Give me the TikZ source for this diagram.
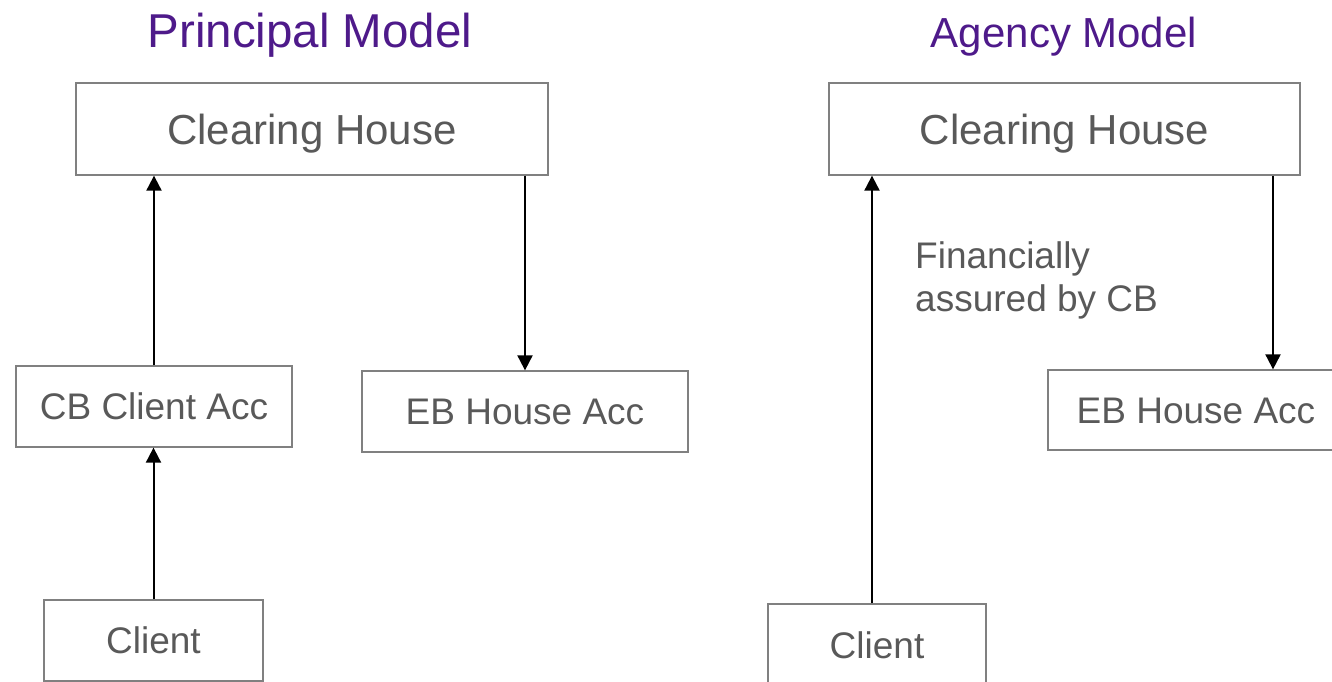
\documentclass[tikz,border=0pt]{standalone}
\usepackage{fontspec}
\setmainfont{Liberation Sans}
\usetikzlibrary{arrows.meta}
\definecolor{titlepurple}{HTML}{4E1A8A}
\definecolor{boxtext}{HTML}{595959}
\definecolor{boxline}{HTML}{808080}
\begin{document}
\begin{tikzpicture}[x=1pt,y=-1pt,
  box/.style={draw=boxline, line width=1.3pt, text=boxtext, inner sep=0pt,
    text height=26.5pt, text depth=0pt, font=\fontsize{37}{43}\selectfont},
  bigbox/.style={box, text height=30pt, font=\fontsize{42}{50}\selectfont},
  title/.style={text=titlepurple, inner sep=0pt, anchor=base},
  link/.style={line width=2pt, -{Triangle[width=15pt,length=15pt]}}]
\useasboundingbox (0,0) rectangle (1332,681);
\clip (0,0) rectangle (1332,681);

% Principal model
\node[title, font=\fontsize{47.5}{57}\selectfont] (t1) at (310,47) {Principal Model};
\node[bigbox, minimum width=472pt, minimum height=92pt] (ch1) at (312,129) {Clearing House};
\node[box, minimum width=276pt, minimum height=81pt] (cb1) at (154,406.5) {CB Client Acc};
\node[box, minimum width=326pt, minimum height=81pt] (eb1) at (525,411.5) {EB House Acc};
\node[box, minimum width=219pt, minimum height=81pt] (cl1) at (153.5,640.5) {Client};

\draw[link] (cb1.north) -- (cb1.north |- ch1.south);
\draw[link] (cl1.north) -- (cl1.north |- cb1.south);
\draw[link] (ch1.south -| eb1.north) -- (eb1.north);

% Agency model
\node[title, font=\fontsize{42}{50}\selectfont] (t2) at (1064,47) {Agency Model};
\node[bigbox, minimum width=471pt, minimum height=92pt] (ch2) at (1064.5,129) {Clearing House};
\node[box, minimum width=296pt, minimum height=80pt] (eb2) at (1196,410) {EB House Acc};
\node[box, minimum width=218pt, minimum height=82pt] (cl2) at (877,645) {Client};
\node[text=boxtext, font=\fontsize{37}{43}\selectfont, align=left, anchor=north west,
  inner sep=0pt] (note) at (915,241) {Financially\\assured by CB};

\coordinate (a2) at ([xshift=-5pt]cl2.north);
\coordinate (b2) at ([xshift=77pt]eb2.north);
\draw[link] (a2) -- (a2 |- ch2.south);
\draw[link] (ch2.south -| b2) -- (b2);
\end{tikzpicture}
\end{document}
